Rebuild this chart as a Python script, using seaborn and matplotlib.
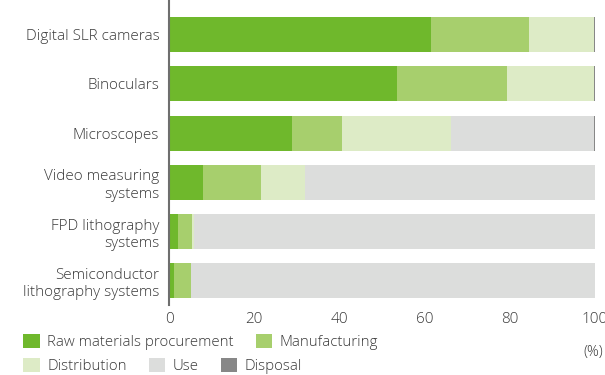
import numpy as np
import pandas as pd
import seaborn as sns
from matplotlib import pyplot as plt
from matplotlib.patches import Patch

## data (percent of life-cycle CO2)
products = ['Digital SLR cameras', 'Binoculars', 'Microscopes',
            'Video measuring\nsystems', 'FPD lithography\nsystems',
            'Semiconductor\nlithography systems']
raw_materials = [61.5, 53.5, 28.9, 8.0, 2.1, 1.2]
manufacturing = [23.0, 25.8, 11.7, 13.6, 3.3, 4.0]
distribution = [15.2, 20.4, 25.6, 10.3, 0.5, 0.0]
use = [0.0, 0.0, 33.5, 68.1, 94.1, 94.8]
disposal = [0.3, 0.3, 0.3, 0.0, 0.0, 0.0]

stages = ['Raw materials procurement', 'Manufacturing', 'Distribution', 'Use', 'Disposal']
colors = ['#6fb82c', '#a7cf6d', '#ddebc6', '#dcdddc', '#878787']
xticks = [0, 20, 40, 60, 80, 100]

sns.set_theme(style='white')
plt.rcParams['font.family'] = ['Open Sans', 'DejaVu Sans']
plt.rcParams['font.weight'] = 'light'
text_col = '#3a3a3a'

df = pd.DataFrame({'product': products,
                   stages[0]: raw_materials, stages[1]: manufacturing,
                   stages[2]: distribution, stages[3]: use, stages[4]: disposal})
cum = df[stages].cumsum(axis=1)

fig = plt.figure(figsize=(6.05, 3.75), dpi=100)
ax = fig.add_axes([169 / 605, 1 - 305 / 375, (595 - 169) / 605, 305 / 375])

# stacked bars: draw cumulative totals from the widest layer down
for st, c in reversed(list(zip(stages, colors))):
    sns.barplot(x=cum[st], y=df['product'], color=c, orient='h',
                width=0.71, saturation=1, ax=ax, linewidth=0)

ax.set_xlim(0, 100)
ax.set_ylim(5.49, -0.70)
ax.set_xticks(xticks)
ax.set_xlabel('')
ax.set_ylabel('')
ax.tick_params(axis='both', length=0, labelsize=11, colors=text_col, pad=7)
ax.tick_params(axis='x', pad=5)
for lab in ax.get_yticklabels():
    lab.set_horizontalalignment('right')
for s in ['top', 'right', 'bottom']:
    ax.spines[s].set_visible(False)
ax.spines['left'].set_color('#6e6e6e')
ax.spines['left'].set_linewidth(1.5)

fig.text(603 / 605, 1 - 352 / 375, '(%)', ha='right', va='center',
         fontsize=10.5, color=text_col)

handles = [Patch(facecolor=c, edgecolor='none') for c in colors]
leg_kw = dict(frameon=False, fontsize=10.8, handlelength=1.12, handleheight=1.12,
              handletextpad=0.5, columnspacing=1.45, borderaxespad=0, borderpad=0,
              labelcolor=text_col)
leg1 = fig.legend(handles[:2], stages[:2], ncol=2, loc='center left',
                  bbox_to_anchor=(23 / 605, 1 - 342 / 375), **leg_kw)
leg2 = fig.legend(handles[2:], stages[2:], ncol=3, loc='center left',
                  bbox_to_anchor=(23 / 605, 1 - 366 / 375), **leg_kw)

fig.savefig('out.png', dpi=100)
